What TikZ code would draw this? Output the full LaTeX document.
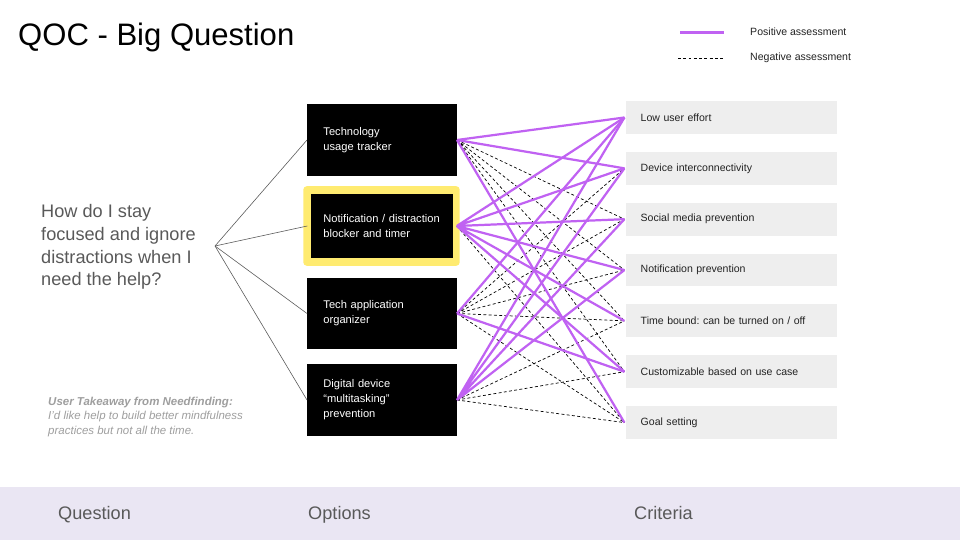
\documentclass[tikz,border=0pt]{standalone}
\usepackage{fontspec}
\setmainfont{Liberation Sans}
\usetikzlibrary{positioning}
\usepackage{xcolor}
\definecolor{ink}{HTML}{222222}
\definecolor{greytext}{HTML}{595959}
\definecolor{faint}{HTML}{9E9E9E}
\definecolor{posline}{HTML}{C062F2}
\definecolor{critfill}{HTML}{EEEEEE}
\definecolor{band}{HTML}{EAE6F3}
\definecolor{hilite}{HTML}{FFEB70}
\frenchspacing

\begin{document}
\begin{tikzpicture}[
      x=0.03cm, y=-0.03cm,
      node distance=15pt,
      option/.style={fill=black, text=white, align=left, font=\fontsize{9.5}{12.75}\selectfont, minimum width=127.6pt, minimum height=61pt, text width=100pt, inner xsep=13.8pt},
      crit/.style={fill=critfill, text=ink, align=left, font=\fontsize{9}{11}\selectfont, minimum width=179.4pt, minimum height=28pt, text width=155pt, inner xsep=12pt, outer xsep=1.7pt},
      axis/.style={text=greytext, anchor=base west, inner sep=0pt, font=\fontsize{15.5}{18}\selectfont},
      legend/.style={text=ink, anchor=west, inner sep=0pt, font=\fontsize{9}{11}\selectfont},
      stem/.style={draw=greytext, line width=0.5pt},
      posedge/.style={draw=posline, line width=1.9pt},
      negedge/.style={draw=black, line width=0.6pt, dash pattern=on 2.5pt off 2pt}
    ]
    \useasboundingbox (0,0) rectangle (960,540);
    \fill[band] (0,487) rectangle (960,540);
    \node[axis] (qlab) at (58,519) {Question};
    \node[axis] (olab) at (308,519) {Options};
    \node[axis] (clab) at (634,519) {Criteria};

    \node[anchor=west, inner sep=0pt, font=\fontsize{26.5}{30}\selectfont] (head) at (18,37) {QOC - Big Question};

    % legend
    \node[legend] (posleg) at (750,32) {Positive assessment};
    \node[legend] (negleg) at (750,58) {Negative assessment};
    \coordinate (posA) at (680,32.5);
    \coordinate (posB) at (724,32.5);
    \coordinate (negA) at (678,58);
    \coordinate (negB) at (724,58);
    \draw[posedge] (posA) -- (posB);
    \draw[negedge] (negA) -- (negB);

    \node[anchor=west, inner sep=0pt, align=left, text=greytext, font=\fontsize{15.5}{19.5}\selectfont] (quest) at (41,247) {How do I stay\\focused and ignore\\distractions when I\\need the help?};
    \node[anchor=west, inner sep=0pt, align=left, text=faint, font=\fontsize{9.8}{12.75}\itshape] (take) at (48,417) {\textbf{User Takeaway from Needfinding:}\\I’d like help to build better mindfulness\\practices but not all the time.};

    % options
    \node[option] (o1) at (382,140) {Technology\\usage tracker};
    \node[fill=hilite, rounded corners=3pt, minimum width=133.5pt, minimum height=68pt] (hl) at (381.5,226) {};
    \node[option, minimum width=120.8pt, minimum height=54.4pt, inner xsep=10.2pt, outer xsep=3.4pt] (o2) at (382,226) {Notification / distraction\\blocker and timer};
    \node[option] (o3) at (382,313.5) {Tech application\\organizer};
    \node[option] (o4) at (382,400) {Digital device\\“multitasking”\\prevention};

    \coordinate (fork) at (215,246);
    \draw[stem] (fork) -- (o1.west);
    \draw[stem] (fork) -- (o2.west);
    \draw[stem] (fork) -- (o3.west);
    \draw[stem] (fork) -- (o4.west);

    % criteria
    \node[crit] (c1) at (731.5,117.5) {Low user effort};
    \node[crit, below=of c1] (c2) {Device interconnectivity};
    \node[crit, below=of c2] (c3) {Social media prevention};
    \node[crit, below=of c3] (c4) {Notification prevention};
    \node[crit, below=of c4] (c5) {Time bound: can be turned on / off};
    \node[crit, below=of c5] (c6) {Customizable based on use case};
    \node[crit, below=of c6] (c7) {Goal setting};

    % negative first, positive on top
    \draw[negedge] (o1.east) -- (c3.west) (o1.east) -- (c4.west) (o1.east) -- (c5.west) (o1.east) -- (c6.west);
    \draw[negedge] (o2.east) -- (c7.west);
    \draw[negedge] (o3.east) -- (c2.west) (o3.east) -- (c3.west) (o3.east) -- (c4.west) (o3.east) -- (c5.west) (o3.east) -- (c7.west);
    \draw[negedge] (o4.east) -- (c5.west) (o4.east) -- (c6.west) (o4.east) -- (c7.west);
    \draw[posedge] (o1.east) -- (c1.west) (o1.east) -- (c2.west) (o1.east) -- (c7.west);
    \draw[posedge] (o2.east) -- (c1.west) (o2.east) -- (c2.west) (o2.east) -- (c3.west) (o2.east) -- (c4.west) (o2.east) -- (c5.west) (o2.east) -- (c6.west);
    \draw[posedge] (o3.east) -- (c1.west) (o3.east) -- (c6.west);
    \draw[posedge] (o4.east) -- (c1.west) (o4.east) -- (c2.west) (o4.east) -- (c3.west) (o4.east) -- (c4.west);
  \end{tikzpicture}
\end{document}
